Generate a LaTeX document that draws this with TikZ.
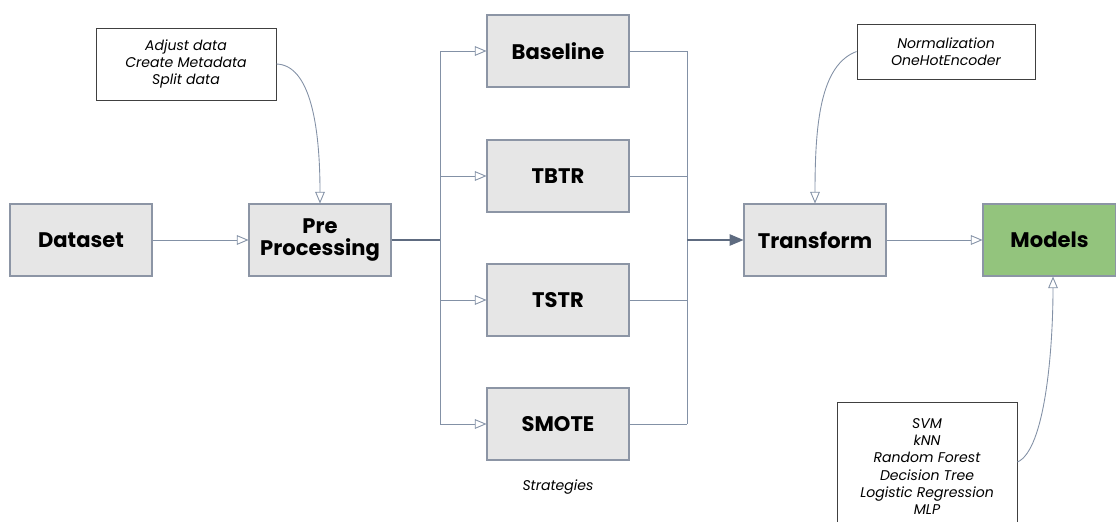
\documentclass[tikz,border=0pt]{standalone}
\usepackage{fontspec}
\setmainfont{Poppins}
\usepgflibrary{arrows}
\usetikzlibrary{calc}

\definecolor{boxfill}{HTML}{E6E6E6}
\definecolor{boxline}{HTML}{8C95A5}
\definecolor{wire}{HTML}{8391A6}
\definecolor{wiredark}{HTML}{5E6B80}
\definecolor{modelgreen}{HTML}{93C47D}

\begin{document}
\begin{tikzpicture}[stage/.style={draw=boxline, line width=.6pt, fill=boxfill, minimum width=2.84cm, minimum height=1.44cm, inner sep=0pt, font=\fontsize{12}{13}\selectfont\bfseries, align=center},
note/.style={draw=black!75, line width=.5pt, fill=white, inner sep=0pt, font=\fontsize{8}{9.7}\selectfont\itshape, align=center},
wire/.style={draw=wire, line width=.5pt},
>={open triangle 45}]

\useasboundingbox (0,0) rectangle (22.32,-10.42);

\node[stage] (data) at (1.62,-4.8) {Dataset};
\node[stage] (pre) at (6.4,-4.8) {Pre\\Processing};
\node[stage] (base) at (11.16,-1.02) {Baseline};
\node[stage] (tbtr) at (11.16,-3.52) {TBTR};
\node[stage] (tstr) at (11.16,-6.0) {TSTR};
\node[stage] (smote) at (11.16,-8.48) {SMOTE};
\node[stage] (trans) at (16.3,-4.8) {Transform};
\node[stage, fill=modelgreen, minimum width=2.66cm] (models) at (20.99,-4.8) {Models};

\node[note, minimum width=3.6cm, minimum height=1.44cm] (prenote) at (3.72,-1.28) {Adjust data\\Create Metadata\\Split data};
\node[note, minimum width=3.56cm, minimum height=1.1cm] (transnote) at (18.92,-1.03) {Normalization\\OneHotEncoder};
\node[note, minimum width=3.6cm, minimum height=2.56cm, anchor=north, font=\fontsize{8}{9.8}\selectfont\itshape] (modelnote) at (18.54,-8.04) {SVM\\kNN\\Random Forest\\Decision Tree\\Logistic Regression\\MLP};
\node[font=\fontsize{8}{9.7}\selectfont\itshape] (strat) at (11.16,-9.74) {Strategies};

% split and join points
\coordinate (split) at (8.8,-4.8);
\coordinate (join) at (13.74,-4.8);

\begin{scope}[wire]
\draw[->] (data) -- (pre);
\draw[draw=wiredark, line width=1pt] (pre) -- (split);
\draw (split |- base) -- (split |- smote);
\draw[->] (split |- base) -- (base);
\draw[->] (split |- tbtr) -- (tbtr);
\draw[->] (split |- tstr) -- (tstr);
\draw[->] (split |- smote) -- (smote);

\draw (base) -- (join |- base);
\draw (tbtr) -- (join |- tbtr);
\draw (tstr) -- (join |- tstr);
\draw (smote) -- (join |- smote);
\draw (join |- base) -- (join |- smote);
\draw[-triangle 45, draw=wiredark, fill=wire, line width=.8pt] (join) -- (trans);
\draw[->] (trans) -- (models);
\end{scope}

\begin{scope}[wire, ->]
\draw (prenote.east) .. controls (6.2,-1.3) and (6.4,-2.5) .. (pre.north);
\draw (transnote.west) .. controls (16.4,-1.3) and (16.3,-2.5) .. (trans.north);
\draw ($(modelnote.north east)+(0,-1.2)$) .. controls (20.9,-9.0) and (21.06,-7.0) .. ($(models.south)+(0.07,0)$);
\end{scope}
\end{tikzpicture}
\end{document}
